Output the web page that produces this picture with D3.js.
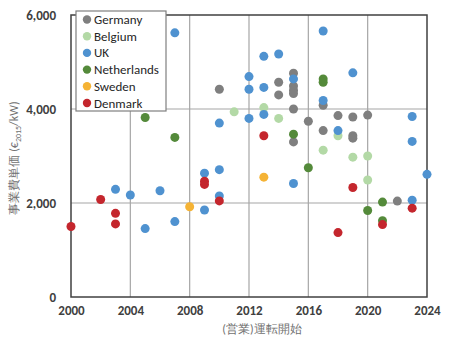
<!DOCTYPE html>
<html><head><meta charset="utf-8">
<script src="https://cdn.jsdelivr.net/npm/d3@7"></script>
<style>
body{margin:0;background:#fff;}
text{font-family:Carlito,Calibri,"Liberation Sans","Noto Sans",sans-serif;}
</style></head>
<body><svg id="c" width="450" height="338"></svg>
<script>
const seriesNames = ["Germany","Belgium","UK","Netherlands","Sweden","Denmark"];
const seriesColors = ["#7f7f7f","#b3d9a6","#4f92d0","#548a3a","#f5b335","#c4262d"];
const germanyYears = [2010,2014,2014,2015,2015,2015,2015,2015,2015,2016,2017,2017,2018,2019,2019,2019,2020,2022];
const germanyVals  = [4420,4570,4300,4760,4490,4400,4330,4000,3300,3740,4080,3540,3860,3830,3430,3380,3870,2040];
const belgiumYears = [2011,2013,2014,2017,2018,2019,2020,2020];
const belgiumVals  = [3940,4030,3800,3125,3430,2975,3000,2490];
const ukYears = [2003,2004,2005,2006,2007,2007,2009,2009,2010,2010,2010,2012,2012,2012,2013,2013,2013,2014,2015,2015,2017,2017,2018,2019,2023,2023,2023,2024];
const ukVals  = [2290,2170,1455,2260,5620,1605,2635,1850,3700,2710,2150,4690,4420,3800,5120,4460,3885,5170,4640,2415,5660,4180,3540,4770,3840,3310,2060,2610];
const netherlandsYears = [2005,2007,2015,2016,2017,2017,2020,2021,2021];
const netherlandsVals  = [3820,3395,3465,2750,4640,4570,1840,2020,1625];
const swedenYears = [2008,2013];
const swedenVals  = [1920,2550];
const denmarkYears = [2000,2002,2003,2003,2009,2009,2010,2013,2018,2019,2021,2023];
const denmarkVals  = [1500,2075,1780,1555,2465,2395,2045,3430,1370,2330,1540,1890];
const xTicks = [2000,2004,2008,2012,2016,2020,2024];
const yTicks = [0,2000,4000,6000];

const series = [
  [germanyYears,germanyVals],[belgiumYears,belgiumVals],[ukYears,ukVals],
  [netherlandsYears,netherlandsVals],[swedenYears,swedenVals],[denmarkYears,denmarkVals]
].map((s,i)=>({name:seriesNames[i],color:seriesColors[i],pts:s[0].map((y,j)=>({x:y,y:s[1][j]}))}));

const svg = d3.select("#c");
const L=71,R=427,T=15,B=297;
const x = d3.scaleLinear().domain([2000,2024]).range([L,R]);
const y = d3.scaleLinear().domain([0,6000]).range([B,T]);

// grid
svg.append("g").selectAll("line").data(xTicks.slice(1,-1)).join("line")
  .attr("x1",d=>x(d)).attr("x2",d=>x(d)).attr("y1",T).attr("y2",B)
  .attr("stroke","#a6a6a6").attr("stroke-width",1.2);
svg.append("g").selectAll("line").data(yTicks.slice(1,-1)).join("line")
  .attr("y1",d=>y(d)).attr("y2",d=>y(d)).attr("x1",L).attr("x2",R)
  .attr("stroke","#a6a6a6").attr("stroke-width",1.2);
svg.append("rect").attr("x",L).attr("y",T).attr("width",R-L).attr("height",B-T)
  .attr("fill","none").attr("stroke","#404040").attr("stroke-width",1.5);

// axes labels
const xa = svg.append("g").attr("transform",`translate(0,${B})`)
  .call(d3.axisBottom(x).tickValues(xTicks).tickFormat(d3.format("d")).tickSize(0).tickPadding(9));
xa.select(".domain").remove();
xa.selectAll("text").attr("font-size",13).attr("font-weight","bold").attr("fill","#404040");
const ya = svg.append("g").attr("transform",`translate(${L},0)`)
  .call(d3.axisLeft(y).tickValues(yTicks).tickFormat(d3.format(",")).tickSize(0).tickPadding(15));
ya.select(".domain").remove();
ya.selectAll("text").attr("font-size",13).attr("font-weight","bold").attr("fill","#404040");

svg.append("text").attr("x",262).attr("y",333).attr("text-anchor","middle")
  .attr("font-size",12).attr("fill","#707070").text("(営業)運転開始");
const yt = svg.append("text").attr("transform","translate(18,158) rotate(-90)")
  .attr("text-anchor","middle").attr("font-size",12).attr("fill","#707070");
yt.append("tspan").text("事業費単価 (€");
yt.append("tspan").attr("font-size",8).attr("dy",3).text("2015");
yt.append("tspan").attr("dy",-3).text("/kW)");

// points
series.forEach(s=>{
  svg.append("g").selectAll("circle").data(s.pts).join("circle")
    .attr("cx",d=>x(d.x)).attr("cy",d=>y(d.y)).attr("r",4.5).attr("fill",s.color);
});

// legend
const lg = svg.append("g");
lg.append("rect").attr("x",76).attr("y",11).attr("width",90).attr("height",100)
  .attr("fill","#fff").attr("stroke","#7f7f7f").attr("stroke-width",1.2);
series.forEach((s,i)=>{
  const cy = 19.5 + i*16.7;
  lg.append("circle").attr("cx",87).attr("cy",cy).attr("r",4.2).attr("fill",s.color);
  lg.append("text").attr("x",94).attr("y",cy+4.5).attr("font-size",13)
    .attr("fill","#262626").text(s.name);
});
</script></body></html>
